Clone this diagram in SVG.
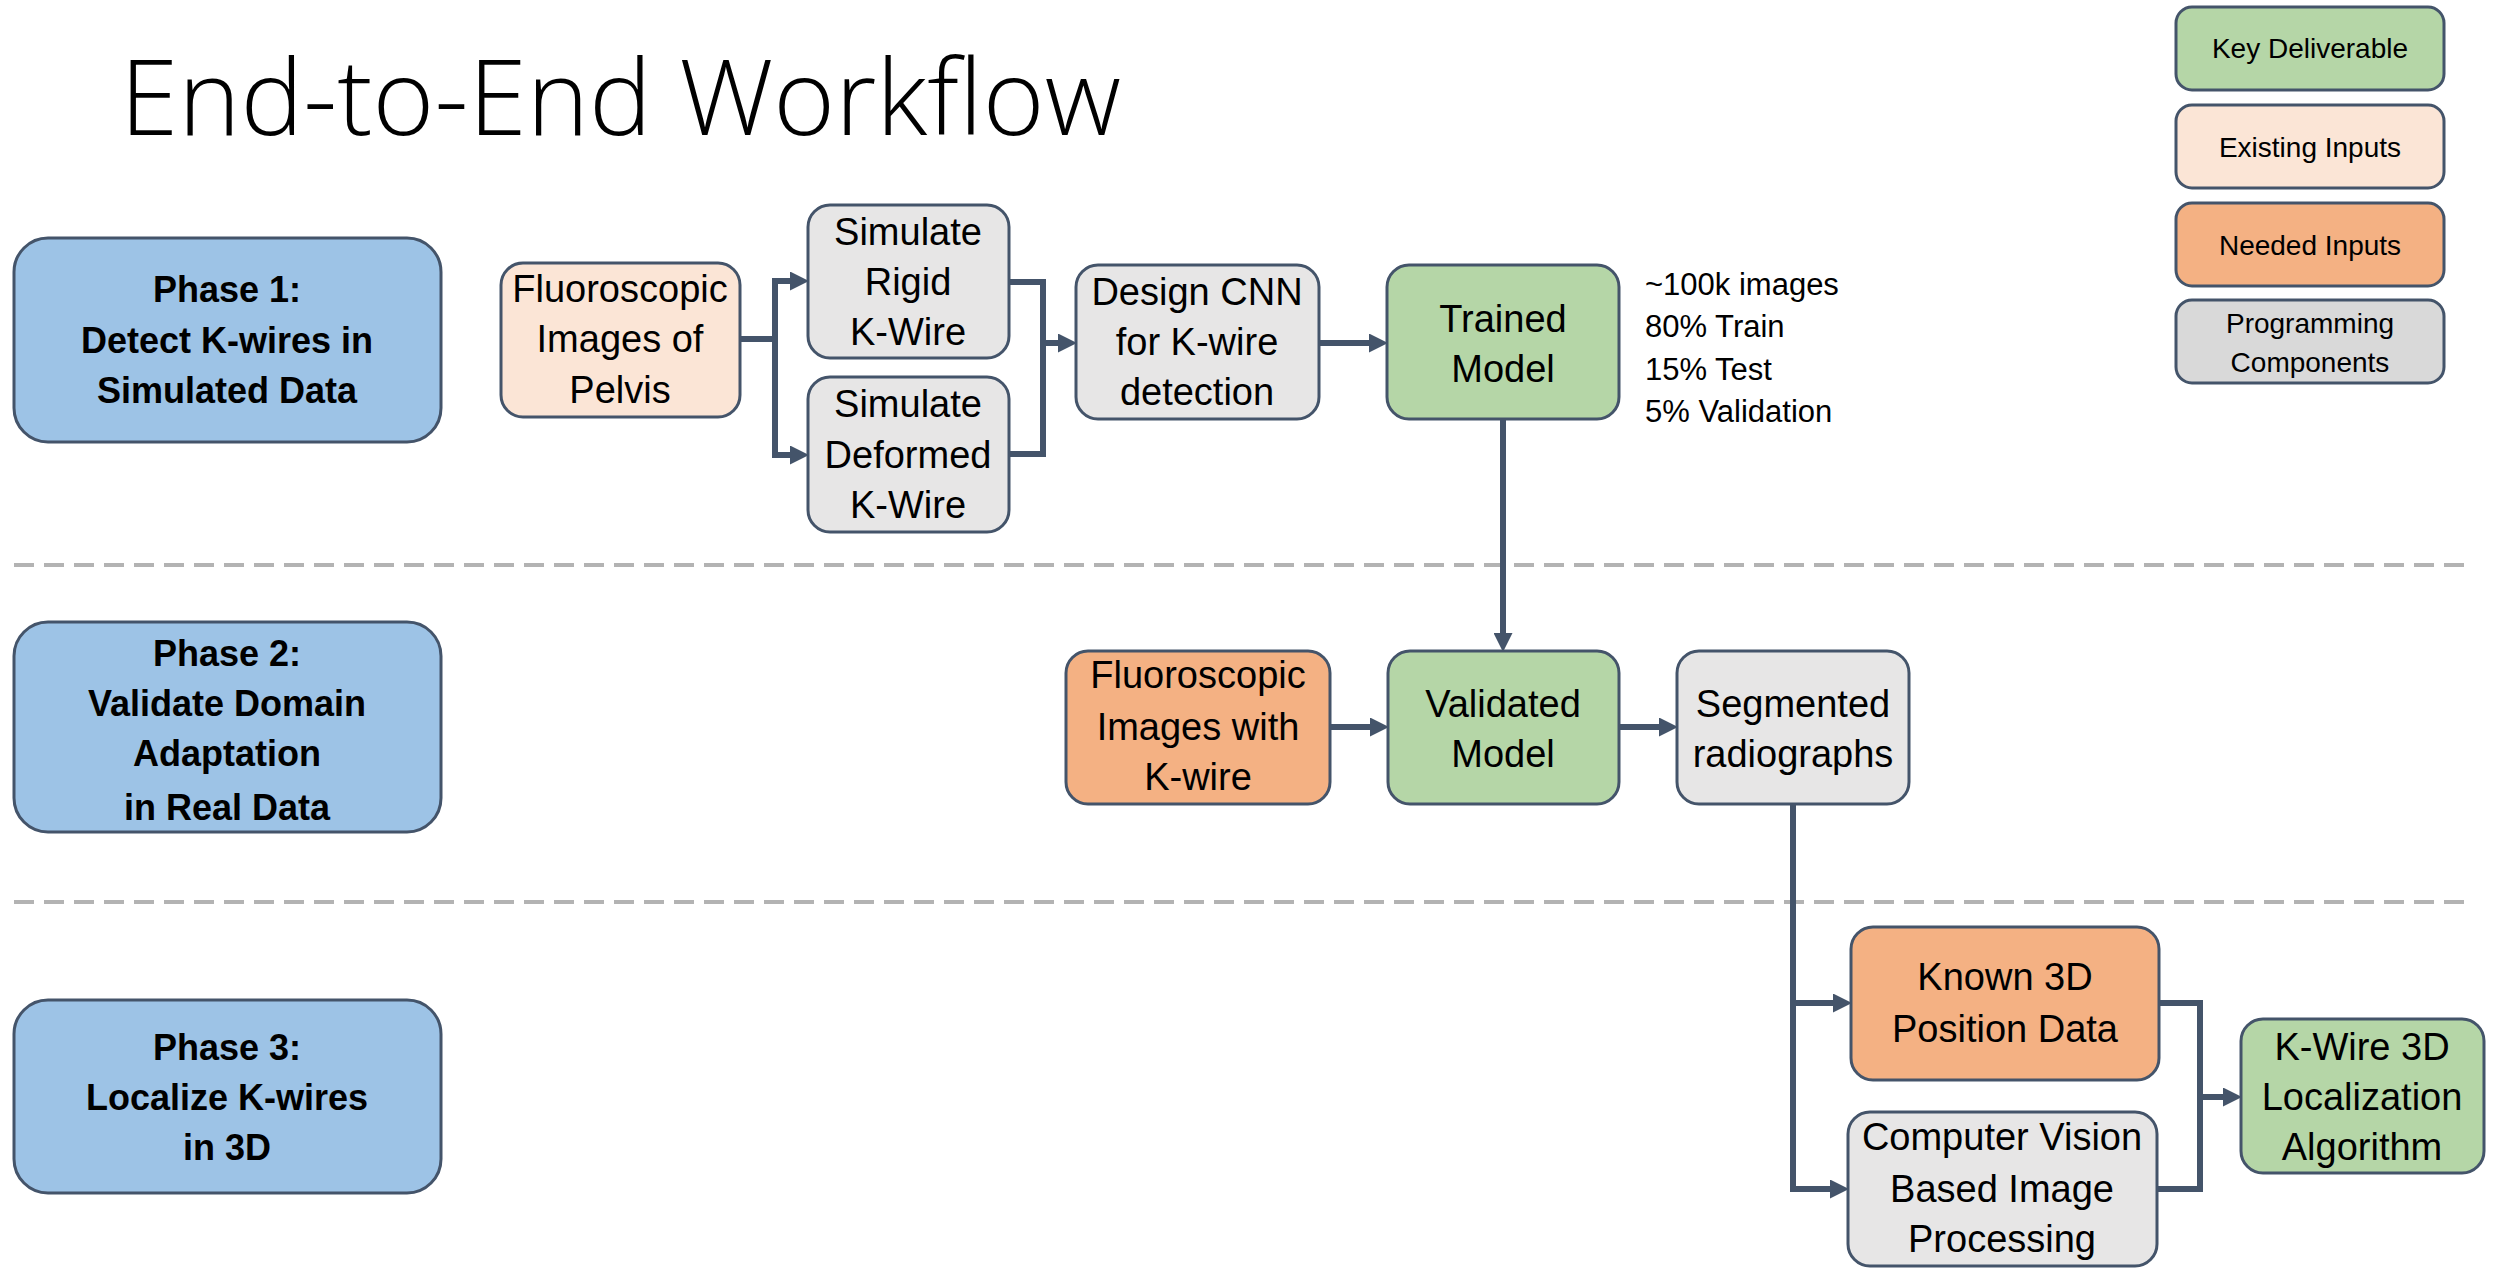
<svg xmlns="http://www.w3.org/2000/svg" width="2496" height="1268" viewBox="0 0 2496 1268">
<defs>
<style>
.t{font-family:"Liberation Sans",Arial,sans-serif;fill:#000;text-anchor:middle}
.n{font-size:38px}
.p{font-size:36px;font-weight:bold}
.lg{font-size:28px}
.note{font-family:"Liberation Sans",Arial,sans-serif;font-size:31px;fill:#000}
.box{stroke:#44546A;stroke-width:3}
.phase{fill:#9DC3E6}
.green{fill:#B5D6A7}
.exist{fill:#FBE5D6}
.need{fill:#F4B183}
.gray{fill:#E7E6E6}
.gray2{fill:#D9D9D9}
.c{fill:none;stroke:#44546A;stroke-width:6;stroke-linejoin:miter}
.div{stroke:#B3B3B3;stroke-width:4;stroke-dasharray:20 10}
</style>
<marker id="ah" markerUnits="userSpaceOnUse" markerWidth="19" markerHeight="19" refX="10" refY="9.5" orient="auto">
<path d="M0,0 L19,9.5 L0,19 z" fill="#44546A"/>
</marker>
</defs>
<rect width="2496" height="1268" fill="#fff"/>
<text x="120" y="135" font-family="'Open Sans','Liberation Sans',sans-serif" font-weight="300" font-size="106" textLength="1001" lengthAdjust="spacingAndGlyphs" fill="#000">End-to-End Workflow</text>
<g id="dividers">
<line class="div" x1="14" y1="565" x2="2466" y2="565"/>
<line class="div" x1="14" y1="902" x2="2466" y2="902"/>
</g>
<g id="legend">
<g id="legend-key"><rect class="box green" x="2176" y="7" width="268" height="83" rx="16"/><text class="t lg" x="2310" y="58">Key Deliverable</text></g>
<g id="legend-existing"><rect class="box exist" x="2176" y="105" width="268" height="83" rx="16"/><text class="t lg" x="2310" y="157">Existing Inputs</text></g>
<g id="legend-needed"><rect class="box need" x="2176" y="203" width="268" height="83" rx="16"/><text class="t lg" x="2310" y="255">Needed Inputs</text></g>
<g id="legend-programming"><rect class="box gray2" x="2176" y="300" width="268" height="83" rx="16"/><text class="t lg" x="2310" y="333">Programming</text><text class="t lg" x="2310" y="372">Components</text></g>
</g>
<g id="phase1"><rect class="box phase" x="14" y="238" width="427" height="204" rx="34"/>
<text class="t p" x="227" y="302">Phase 1:</text><text class="t p" x="227" y="353">Detect K-wires in</text><text class="t p" x="227" y="403">Simulated Data</text></g>
<g id="phase2"><rect class="box phase" x="14" y="622" width="427" height="210" rx="34"/>
<text class="t p" x="227" y="666">Phase 2:</text><text class="t p" x="227" y="716">Validate Domain</text><text class="t p" x="227" y="766">Adaptation</text><text class="t p" x="227" y="820">in Real Data</text></g>
<g id="phase3"><rect class="box phase" x="14" y="1000" width="427" height="193" rx="34"/>
<text class="t p" x="227" y="1060">Phase 3:</text><text class="t p" x="227" y="1110">Localize K-wires</text><text class="t p" x="227" y="1160">in 3D</text></g>
<g id="connectors">
<path class="c" d="M740,339 H775 V281 H800" marker-end="url(#ah)"/>
<path class="c" d="M740,339 H775 V455 H800" marker-end="url(#ah)"/>
<path class="c" d="M1009,282 H1043 V343 H1068" marker-end="url(#ah)"/>
<path class="c" d="M1009,454 H1043 V343"/>
<path class="c" d="M1319,343 H1379" marker-end="url(#ah)"/>
<path class="c" d="M1503,419 V643" marker-end="url(#ah)"/>
<path class="c" d="M1330,727 H1380" marker-end="url(#ah)"/>
<path class="c" d="M1619,727 H1669" marker-end="url(#ah)"/>
<path class="c" d="M1793,804 V1003 H1843" marker-end="url(#ah)"/>
<path class="c" d="M1793,1000 V1189 H1840" marker-end="url(#ah)"/>
<path class="c" d="M2159,1003 H2200 V1097 H2233" marker-end="url(#ah)"/>
<path class="c" d="M2157,1189 H2200 V1097"/>
</g>
<g id="fluoro-pelvis"><rect class="box exist" x="501" y="263" width="239" height="154" rx="22"/>
<text class="t n" x="620" y="302">Fluoroscopic</text><text class="t n" x="620" y="352">Images of</text><text class="t n" x="620" y="403">Pelvis</text></g>
<g id="sim-rigid"><rect class="box gray" x="808" y="205" width="201" height="153" rx="22"/>
<text class="t n" x="908" y="245">Simulate</text><text class="t n" x="908" y="295">Rigid</text><text class="t n" x="908" y="345">K-Wire</text></g>
<g id="sim-deformed"><rect class="box gray" x="808" y="377" width="201" height="155" rx="22"/>
<text class="t n" x="908" y="417">Simulate</text><text class="t n" x="908" y="468">Deformed</text><text class="t n" x="908" y="518">K-Wire</text></g>
<g id="design-cnn"><rect class="box gray" x="1076" y="265" width="243" height="154" rx="22"/>
<text class="t n" x="1197" y="305">Design CNN</text><text class="t n" x="1197" y="355">for K-wire</text><text class="t n" x="1197" y="405">detection</text></g>
<g id="trained-model"><rect class="box green" x="1387" y="265" width="232" height="154" rx="22"/>
<text class="t n" x="1503" y="332">Trained</text><text class="t n" x="1503" y="382">Model</text></g>
<g id="notes">
<text class="note" x="1645" y="295">~100k images</text>
<text class="note" x="1645" y="337">80% Train</text>
<text class="note" x="1645" y="380">15% Test</text>
<text class="note" x="1645" y="422">5% Validation</text>
</g>
<g id="fluoro-kwire"><rect class="box need" x="1066" y="651" width="264" height="153" rx="22"/>
<text class="t n" x="1198" y="688">Fluoroscopic</text><text class="t n" x="1198" y="740">Images with</text><text class="t n" x="1198" y="790">K-wire</text></g>
<g id="validated-model"><rect class="box green" x="1388" y="651" width="231" height="153" rx="22"/>
<text class="t n" x="1503" y="717">Validated</text><text class="t n" x="1503" y="767">Model</text></g>
<g id="segmented"><rect class="box gray" x="1677" y="651" width="232" height="153" rx="22"/>
<text class="t n" x="1793" y="717">Segmented</text><text class="t n" x="1793" y="767">radiographs</text></g>
<g id="known-3d"><rect class="box need" x="1851" y="927" width="308" height="153" rx="22"/>
<text class="t n" x="2005" y="990">Known 3D</text><text class="t n" x="2005" y="1042">Position Data</text></g>
<g id="cv-processing"><rect class="box gray" x="1848" y="1112" width="309" height="154" rx="22"/>
<text class="t n" x="2002" y="1150">Computer Vision</text><text class="t n" x="2002" y="1202">Based Image</text><text class="t n" x="2002" y="1252">Processing</text></g>
<g id="kwire-3d"><rect class="box green" x="2241" y="1019" width="243" height="154" rx="22"/>
<text class="t n" x="2362" y="1060">K-Wire 3D</text><text class="t n" x="2362" y="1110">Localization</text><text class="t n" x="2362" y="1160">Algorithm</text></g>
</svg>
